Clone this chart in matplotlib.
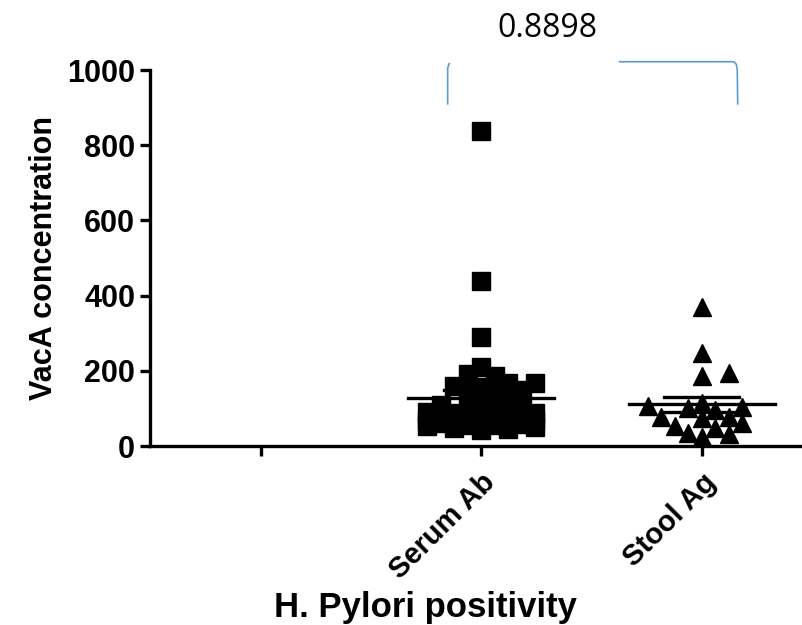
import numpy as np
import matplotlib
matplotlib.use("Agg")
import matplotlib.pyplot as plt

# data
groups = ["Serum Ab", "Stool Ag"]
tick_labels = ["", "Serum Ab", "Stool Ag"]
serum_ab = [838, 439, 291, 210, 186, 191, 167, 157, 143, 159, 167, 150, 145,
            42, 45, 48, 50, 52, 55, 56, 58, 60, 62, 64, 66, 68, 70, 72, 74,
            75, 78, 80, 82, 85, 88, 90, 94, 98, 102, 108, 115, 122]
stool_ag = [369, 247, 186, 194, 106, 114, 77, 53, 34, 24, 32, 48, 77, 61, 74,
            103, 95, 100]
p_value = "0.8898"

BOLD = dict(family="Liberation Sans", weight="bold")

fig = plt.figure(figsize=(8.02, 6.25), dpi=100)
ax = fig.add_axes([0.1875, 0.2864, 0.825, 0.6016])
ax.set_xlim(-0.5, 2.5)
ax.set_ylim(0, 1000)


def swarm_offsets(vals, step_px=13.5, nmax=4, min_dist=14.0):
    # simple column swarm done in pixel space, like the prism scatter layout
    px_per_x = ax.transData.transform((1, 0))[0] - ax.transData.transform((0, 0))[0]
    ypx = ax.transData.transform(np.column_stack([np.zeros(len(vals)), vals]))[:, 1]
    cands = [0.0]
    for k in range(1, nmax + 1):
        cands += [k * step_px, -k * step_px]
    offs = np.zeros(len(vals))
    placed = []
    for i in np.argsort(vals):
        best, best_d = None, -1
        for c in cands:
            d = min([np.hypot(c - px, ypx[i] - py) for px, py in placed] or [1e9])
            if d >= min_dist:
                best = c
                break
            if d > best_d:
                best_d, best_c = d, c
        if best is None:
            best = best_c
        placed.append((best, ypx[i]))
        offs[i] = best
    return offs / px_per_x


for pos, vals, mk, ms in [(1, serum_ab, "s", 13), (2, stool_ag, "^", 13)]:
    vals = np.array(vals, dtype=float)
    xs = pos + swarm_offsets(vals)
    ax.plot(xs, vals, ls="none", marker=mk, ms=ms, color="black", zorder=3)
    m = vals.mean()
    sem = vals.std(ddof=1) / np.sqrt(len(vals))
    ax.plot([pos - 0.33, pos + 0.33], [m, m], color="black", lw=2.4, zorder=4)
    for yy in (m - sem, m + sem):
        ax.plot([pos - 0.17, pos + 0.17], [yy, yy], color="black", lw=2.4, zorder=4)
    ax.plot([pos, pos], [m - sem, m + sem], color="black", lw=2.4, zorder=4)

for s in ["top", "right"]:
    ax.spines[s].set_visible(False)
for s in ["left", "bottom"]:
    ax.spines[s].set_linewidth(2.4)

ax.set_yticks([0, 200, 400, 600, 800, 1000])
ax.set_xticks([0, 1, 2])
ax.set_xticklabels(tick_labels, rotation=45, ha="right", rotation_mode="anchor", **BOLD)
ax.tick_params(axis="both", width=2.4, length=7, labelsize=22, direction="out")
ax.tick_params(axis="x", labelsize=21, pad=9)
ax.tick_params(axis="y", pad=4)
for lab in ax.get_yticklabels():
    lab.set_family("Liberation Sans")
    lab.set_weight("bold")

ax.set_ylabel("VacA concentration", fontsize=22, labelpad=6, **BOLD)
ax.set_xlabel("H. Pylori positivity", fontsize=25, **BOLD)
ax.xaxis.set_label_coords(0.416, -0.385)

# p-value bracket drawn above the plot
blue = "#5b9bd5"
ax.plot([0.848, 0.848, 0.855], [910, 1005, 1017], color=blue, lw=1.2, clip_on=False)
ax.plot([1.628, 2.145, 2.157, 2.161, 2.163], [1022, 1022, 1015, 1000, 910],
        color=blue, lw=1.2, clip_on=False)
ax.text(1.30, 1110, p_value, ha="center", va="center", fontsize=23,
        family="Open Sans", clip_on=False)

fig.savefig("out.png", dpi=100)
